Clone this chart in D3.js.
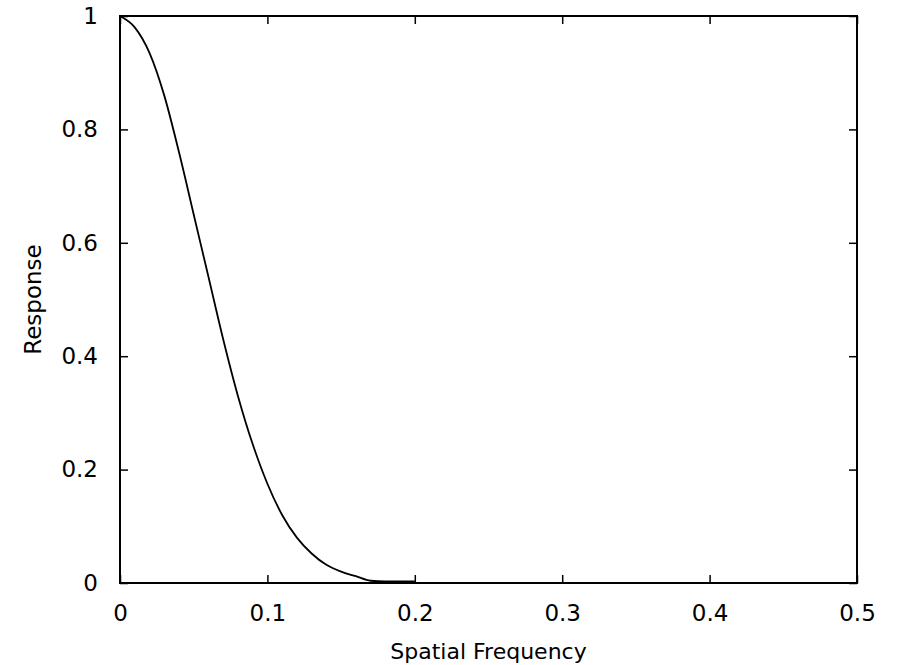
<!DOCTYPE html>
<html><head><meta charset="utf-8">
<script src="https://cdn.jsdelivr.net/npm/d3@7"></script>
<style>body{margin:0;background:#fff;} text{font-family:"DejaVu Sans",sans-serif;}</style>
</head><body>
<svg id="c" width="897" height="665"></svg>
<script>
const freq = [0, 0.01, 0.02, 0.03, 0.04, 0.05, 0.06, 0.07, 0.08, 0.09, 0.10, 0.11, 0.12, 0.13, 0.14, 0.15, 0.16, 0.17, 0.18, 0.19, 0.20];
const response = [1.00, 0.98, 0.935, 0.86, 0.76, 0.65, 0.54, 0.43, 0.33, 0.245, 0.175, 0.12, 0.08, 0.052, 0.032, 0.02, 0.012, 0.004, 0.003, 0.003, 0.003];
const xTicks = [0, 0.1, 0.2, 0.3, 0.4, 0.5];
const yTicks = [0, 0.2, 0.4, 0.6, 0.8, 1];
const xTickLabels = ["0", "0.1", "0.2", "0.3", "0.4", "0.5"];
const yTickLabels = ["0", "0.2", "0.4", "0.6", "0.8", "1"];

const L = 120, R = 857, T = 16, B = 583;
const svg = d3.select("#c");
const x = d3.scaleLinear().domain([0, 0.5]).range([L, R]);
const y = d3.scaleLinear().domain([0, 1]).range([B, T]);

const tickLen = 8;
const gx = svg.append("g").attr("transform", `translate(0,${B})`)
  .call(d3.axisBottom(x).tickValues(xTicks).tickFormat((d,i)=>xTickLabels[i]).tickSizeInner(-tickLen).tickSizeOuter(0).tickPadding(22));
const gxt = svg.append("g").attr("transform", `translate(0,${T})`)
  .call(d3.axisTop(x).tickValues(xTicks).tickFormat("").tickSizeInner(-tickLen).tickSizeOuter(0));
const gy = svg.append("g").attr("transform", `translate(${L},0)`)
  .call(d3.axisLeft(y).tickValues(yTicks).tickFormat((d,i)=>yTickLabels[i]).tickSizeInner(-tickLen).tickSizeOuter(0).tickPadding(22));
const gyr = svg.append("g").attr("transform", `translate(${R},0)`)
  .call(d3.axisRight(y).tickValues(yTicks).tickFormat("").tickSizeInner(-tickLen).tickSizeOuter(0));

[gx, gxt, gy, gyr].forEach(g => {
  g.select(".domain").remove();
  g.selectAll(".tick line").attr("stroke", "#000").attr("stroke-width", 1.5);
  g.selectAll("text").attr("fill", "#000").attr("font-size", 23);
});

svg.append("rect").attr("x", L).attr("y", T).attr("width", R - L).attr("height", B - T)
  .attr("fill", "none").attr("stroke", "#000").attr("stroke-width", 2);

const line = d3.line().x((d,i)=>x(freq[i])).y(d=>y(d)).curve(d3.curveMonotoneX);
svg.append("path").datum(response).attr("d", line)
  .attr("fill", "none").attr("stroke", "#000").attr("stroke-width", 1.8);

svg.append("text").attr("x", (L + R) / 2).attr("y", 659)
  .attr("text-anchor", "middle").attr("font-size", 22).attr("fill", "#000").text("Spatial Frequency");
svg.append("text").attr("transform", `translate(41,${(T + B) / 2}) rotate(-90)`)
  .attr("text-anchor", "middle").attr("font-size", 23).attr("fill", "#000").text("Response");
</script>
</body></html>
